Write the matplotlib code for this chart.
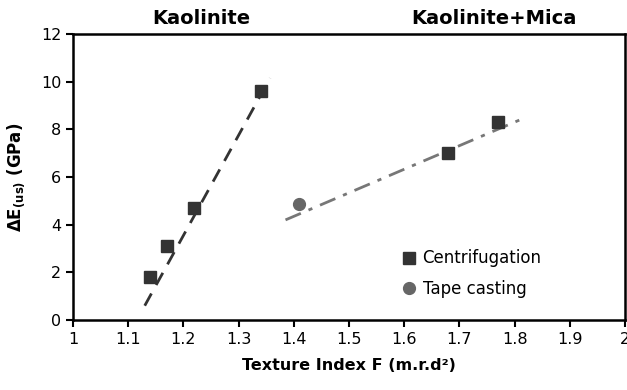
import numpy as np
import matplotlib
matplotlib.use("Agg")
import matplotlib.pyplot as plt
import matplotlib.transforms as mtransforms

# Kaolinite, centrifugation
kao_x = [1.14, 1.17, 1.22, 1.34]
kao_y = [1.8, 3.1, 4.7, 9.6]
kao_trend_x = [1.13, 1.357]
kao_trend_y = [0.6, 10.15]

# Kaolinite + Mica
mica_cent_x = [1.68, 1.77]
mica_cent_y = [7.0, 8.3]
mica_tape_x = [1.41]
mica_tape_y = [4.85]
mica_trend_x = [1.385, 1.82]
mica_trend_y = [4.2, 8.5]

x_ticks = [1, 1.1, 1.2, 1.3, 1.4, 1.5, 1.6, 1.7, 1.8, 1.9, 2]
y_ticks = [0, 2, 4, 6, 8, 10, 12]

fig = plt.figure(figsize=(6.27, 3.9), dpi=100)
ax = fig.add_axes([0.1164, 0.1795, 0.8804, 0.7333])

ax.plot(kao_trend_x, kao_trend_y, color="#333333", lw=2, dashes=(5, 3.5))
ax.plot(mica_trend_x, mica_trend_y, color="#777777", lw=2, dashes=(6, 3, 1.5, 3))

ax.plot(kao_x, kao_y, ls="none", marker="s", ms=8.5, color="#333333",
        label="Centrifugation")
ax.plot(mica_cent_x, mica_cent_y, ls="none", marker="s", ms=8.5, color="#333333")
ax.plot(mica_tape_x, mica_tape_y, ls="none", marker="o", ms=8.5, color="#666666",
        label="Tape casting")

ax.set_xlim(1, 2)
ax.set_ylim(0, 12)
ax.set_xticks(x_ticks)
ax.set_xticklabels([f"{v:g}" for v in x_ticks])
ax.set_yticks(y_ticks)
ax.tick_params(axis="both", labelsize=11.5, width=1.5, length=5, direction="out")

for s in ax.spines.values():
    s.set_linewidth(1.8)

ax.set_xlabel("Texture Index F (m.r.d²)", fontsize=11.5, fontweight="bold", labelpad=8)
ax.set_ylabel(r"ΔE$_{\mathbf{(us)}}$ (GPa)", fontsize=12, fontweight="bold", labelpad=10)

trans = mtransforms.blended_transform_factory(ax.transData, ax.transAxes)
ax.text(1.232, 1.055, "Kaolinite", transform=trans, ha="center", va="center",
        fontsize=14, fontweight="bold")
ax.text(1.763, 1.055, "Kaolinite+Mica", transform=trans, ha="center", va="center",
        fontsize=14, fontweight="bold")

ax.legend(loc="upper left", bbox_to_anchor=(0.585, 0.27), frameon=False,
          fontsize=12, handlelength=0.8, handletextpad=0.4, labelspacing=0.75,
          borderaxespad=0)

fig.savefig("out.png", dpi=100)
